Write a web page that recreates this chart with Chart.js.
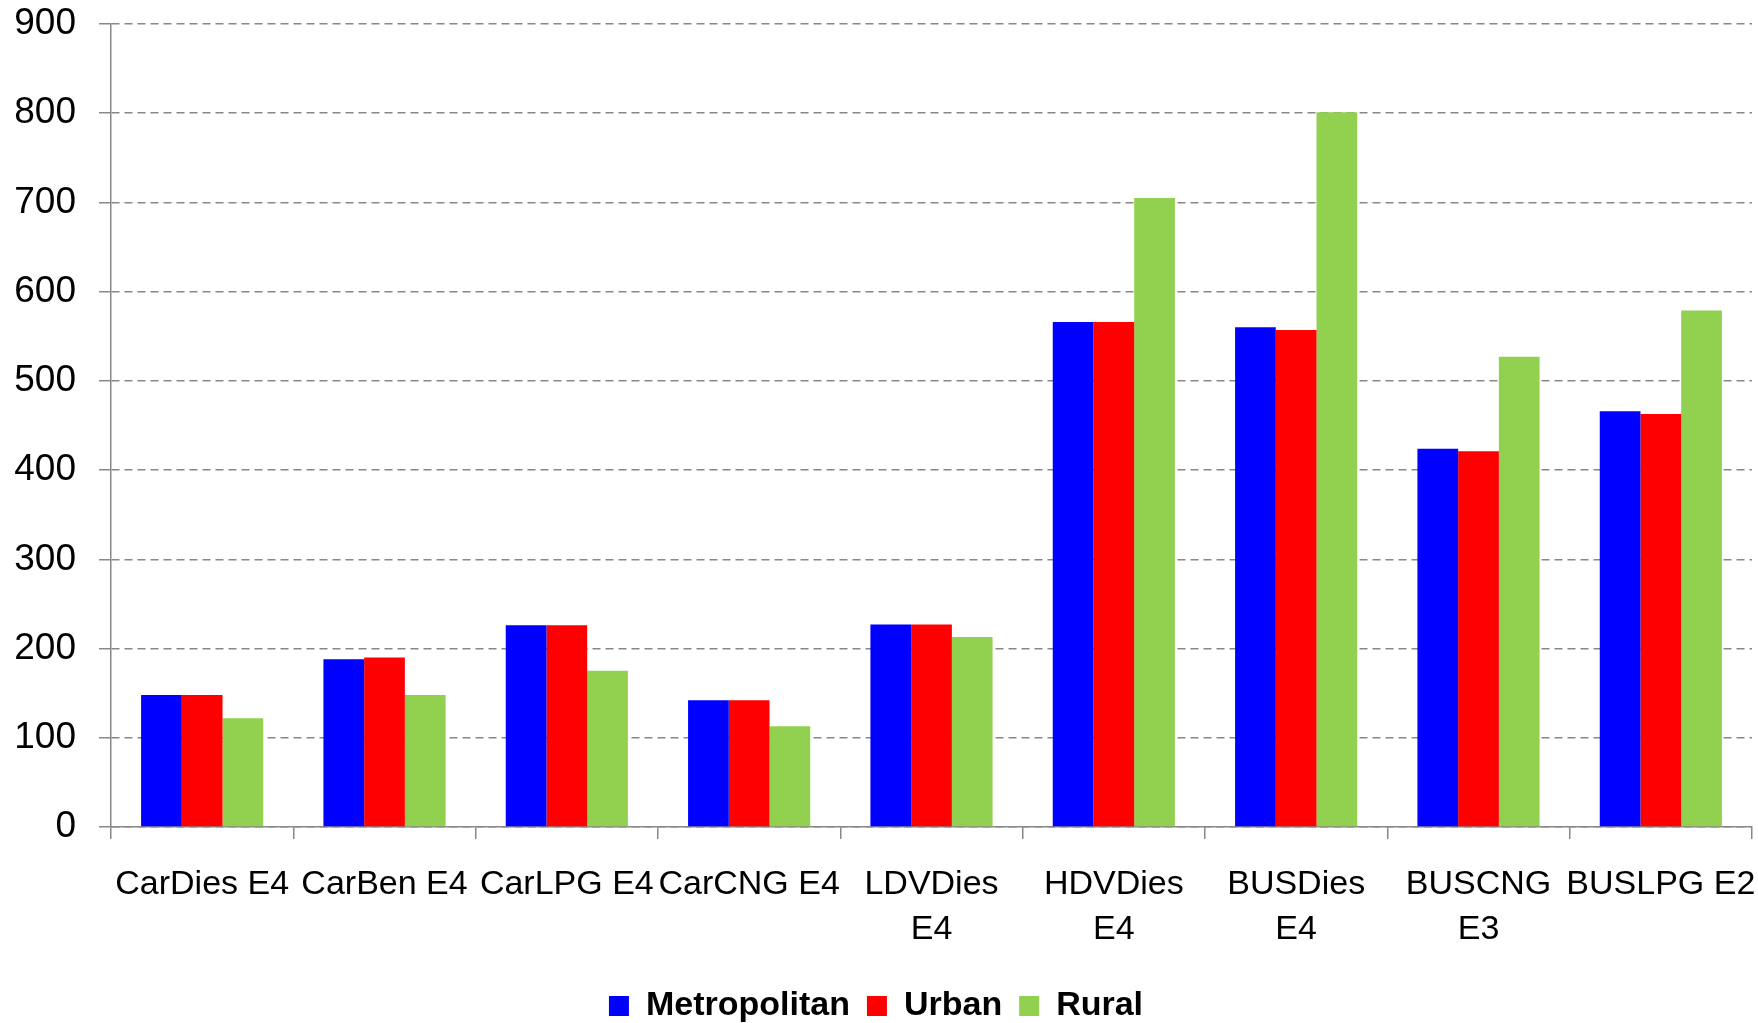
<!DOCTYPE html>
<html>
<head>
<meta charset="utf-8">
<script src="https://cdn.jsdelivr.net/npm/chart.js@4/dist/chart.umd.min.js"></script>
<style>
  html, body { margin: 0; padding: 0; background: #fff; }
  #chart_area { display: block; }
</style>
</head>
<body>
<canvas id="chart_area" width="1758" height="1023"></canvas>
<script>
"use strict"

// vehicle categories (multi-line ones are split like in the original)
var categories = [
    "CarDies E4", "CarBen E4", "CarLPG E4", "CarCNG E4",
    ["LDVDies", "E4"], ["HDVDies", "E4"], ["BUSDies", "E4"], ["BUSCNG", "E3"], "BUSLPG E2"
];

var metropolitan = [148, 188, 226, 142, 227, 566, 560, 424, 466];
var urban        = [148, 190, 226, 142, 227, 566, 557, 421, 463];
var rural        = [122, 148, 175, 113, 213, 705, 801, 527, 579];

var yMin = 0, yMax = 900, yStep = 100;

var FONT = "'Liberation Sans', Arial, sans-serif";
var AXIS_GREY = "#888888";

var chartArea = document.getElementById("chart_area");
var barChart = new Chart(chartArea, {
    type: 'bar',
    data: {
        labels: categories,
        datasets: [
            { label: "Metropolitan", data: metropolitan, backgroundColor: "#0000ff" },
            { label: "Urban", data: urban, backgroundColor: "#ff0000" },
            { label: "Rural", data: rural, backgroundColor: "#92d050" }
        ]
    },
    options: {
        responsive: false,
        animation: false,
        devicePixelRatio: 1,
        layout: { padding: { left: 0, right: 6, top: 24, bottom: -10 } },
        datasets: {
            bar: { categoryPercentage: 0.67, barPercentage: 1.0, borderWidth: 0 }
        },
        plugins: {
            tooltip: { enabled: false },
            legend: {
                position: 'bottom',
                labels: {
                    color: "#000",
                    font: { family: FONT, size: 34, weight: 'bold' },
                    boxWidth: 20,
                    boxHeight: 20,
                    padding: 17
                }
            }
        },
        scales: {
            x: {
                grid: {
                    drawOnChartArea: false,
                    color: AXIS_GREY,
                    lineWidth: 1.5,
                    tickLength: 12
                },
                border: { color: AXIS_GREY, width: 1.5 },
                ticks: {
                    color: "#000",
                    font: { family: FONT, size: 34, lineHeight: 1.3 },
                    padding: 24,
                    maxRotation: 0,
                    autoSkip: false
                },
                afterFit: function(axis) {
                    axis.height = 145;
                    axis.paddingLeft = 0;
                    axis.paddingRight = 0;
                }
            },
            y: {
                min: yMin,
                max: yMax,
                grid: {
                    color: AXIS_GREY,
                    lineWidth: 1.5,
                    tickLength: 12,
                    tickBorderDash: []
                },
                border: { color: AXIS_GREY, width: 1.5, dash: [8, 5] },
                ticks: {
                    stepSize: yStep,
                    color: "#000",
                    font: { family: FONT, size: 37 },
                    padding: 23
                },
                afterFit: function(axis) {
                    axis.width = 111;
                    axis.paddingTop = 0;
                    axis.paddingBottom = 0;
                }
            }
        }
    }
});
</script>
</body>
</html>
